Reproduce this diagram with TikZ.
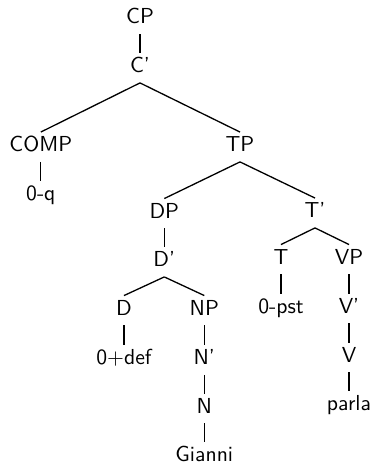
\documentclass[tikz,border=0pt]{standalone}
\usepackage{tikz}
\begin{document}
\begin{tikzpicture}[x=0.4608pt,y=-0.4608pt,
  tn/.style={inner sep=0pt, anchor=base, font=\sffamily,
    text height=8.76pt, text depth=4.6pt},
  edge/.style={draw=black, line width=0.6pt}]
\useasboundingbox (0,0) rectangle (373,464);
% nodes
\node[tn] (cp) at (140,24) {CP};
\node[tn] (cbar) at (140,72.5) {C'};
\node[tn] (comp) at (40.8,151.5) {COMP};
\node[tn] (q) at (40.8,200) {0-q};
\node[tn] (tp) at (240,151.5) {TP};
\node[tn] (dp) at (164.3,218) {DP};
\node[tn] (tbar) at (315,217.5) {T'};
\node[tn] (dbar) at (164.3,266.5) {D'};
\node[tn] (t) at (281,264) {T};
\node[tn] (vp) at (349,264) {VP};
\node[tn] (d) at (124,315) {D};
\node[tn] (np) at (204.3,315) {NP};
\node[tn] (pst) at (281,313) {0-pst};
\node[tn] (vbar) at (349,313) {V'};
\node[tn] (def) at (124,364.5) {0$+$def};
\node[tn] (nbar) at (204.3,364.5) {N'};
\node[tn] (v) at (349,362) {V};
\node[tn] (n) at (204.3,413) {N};
\node[tn] (parla) at (349,410.5) {parla};
\node[tn] (gianni) at (204.3,461.5) {Gianni};
% edges
\draw[edge] (cp.south) -- (cbar.north);
\draw[edge] (cbar.south) -- (comp.north);
\draw[edge] (cbar.south) -- (tp.north);
\draw[edge] (comp.south) -- (q.north);
\draw[edge] (tp.south) -- (dp.north);
\draw[edge] (tp.south) -- (tbar.north);
\draw[edge] (dp.south) -- (dbar.north);
\draw[edge] (dbar.south) -- (d.north);
\draw[edge] (dbar.south) -- (np.north);
\draw[edge] (d.south) -- (def.north);
\draw[edge] (np.south) -- (nbar.north);
\draw[edge] (nbar.south) -- (n.north);
\draw[edge] (n.south) -- (gianni.north);
\draw[edge] (tbar.south) -- (t.north);
\draw[edge] (tbar.south) -- (vp.north);
\draw[edge] (t.south) -- (pst.north);
\draw[edge] (vp.south) -- (vbar.north);
\draw[edge] (vbar.south) -- (v.north);
\draw[edge] (v.south) -- (parla.north);
\end{tikzpicture}
\end{document}
